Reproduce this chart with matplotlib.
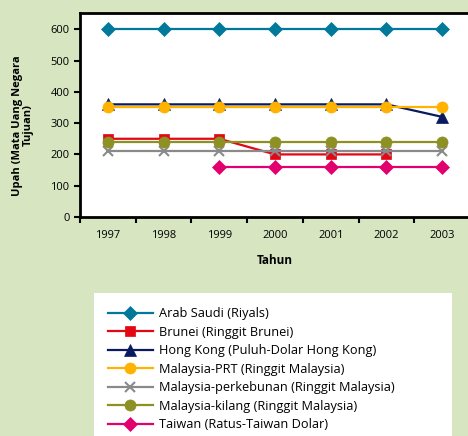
import matplotlib.pyplot as plt
from matplotlib.patches import Rectangle
import numpy as np

years = ['1997', '1998', '1999', '2000', '2001', '2002', '2003']

arab_saudi = [600, 600, 600, 600, 600, 600, 600]
brunei = [250, 250, 250, 200, 200, 200, np.nan]
hong_kong = [360, 360, 360, 360, 360, 360, 320]
malaysia_prt = [350, 350, 350, 350, 350, 350, 350]
malaysia_kebun = [210, 210, 210, 210, 210, 210, 210]
malaysia_kilang = [240, 240, 240, 240, 240, 240, 240]
taiwan = [np.nan, np.nan, 160, 160, 160, 160, 160]

labels = ['Arab Saudi (Riyals)', 'Brunei (Ringgit Brunei)',
          'Hong Kong (Puluh-Dolar Hong Kong)', 'Malaysia-PRT (Ringgit Malaysia)',
          'Malaysia-perkebunan (Ringgit Malaysia)', 'Malaysia-kilang (Ringgit Malaysia)',
          'Taiwan (Ratus-Taiwan Dolar)']

plt.rcParams['font.family'] = ['Open Sans', 'DejaVu Sans']

bg = '#d7e5c1'
fig = plt.figure(figsize=(4.68, 4.36), dpi=100, facecolor=bg)
ax = fig.add_axes([80 / 468, 1 - 217 / 436, 390 / 468, 204 / 436])

x = np.arange(len(years))
series = [
    (arab_saudi, '#00799a', 'D', 7),
    (brunei, '#e30613', 's', 7),
    (hong_kong, '#0a1a5e', '^', 8),
    (malaysia_prt, '#ffb300', 'o', 8),
    (malaysia_kebun, '#8a8a8a', 'x', 7),
    (malaysia_kilang, '#8d9023', 'o', 8),
    (taiwan, '#e2006e', 'D', 7),
]
for (vals, col, mk, ms), lab in zip(series, labels):
    ax.plot(x, vals, color=col, marker=mk, markersize=ms, linewidth=1.6,
            markeredgewidth=1.5 if mk == 'x' else 0.5, markeredgecolor=col,
            label=lab)

ax.set_xlim(-0.5, 6.5)
ax.set_ylim(0, 652)
ax.set_yticks([0, 100, 200, 300, 400, 500, 600])
ax.set_xticks(np.arange(-0.5, 7, 1))
ax.set_xticklabels([])
ax.set_xticks(x, minor=True)
ax.set_xticklabels(years, minor=True)
ax.tick_params(axis='x', which='minor', length=0, pad=9, labelsize=8)
ax.tick_params(axis='x', which='major', length=4, width=1.5, direction='out')
ax.tick_params(axis='y', length=4, width=1.5, direction='out', labelsize=8)
for s in ax.spines.values():
    s.set_linewidth(2)
ax.set_xlabel('Tahun', fontsize=8.5, fontweight='bold', labelpad=10)
ax.set_ylabel('Upah (Mata Uang Negara\nTujuan)', fontsize=8, fontweight='bold',
              linespacing=1.0)
ax.yaxis.set_label_coords(-0.118, 0.45)

fig.patches.append(Rectangle((94 / 468, 0), 358 / 468, 143 / 436,
                             transform=fig.transFigure, facecolor='white',
                             edgecolor='none', zorder=0))
fig.legend(loc='upper left', bbox_to_anchor=(103 / 468, 1 - 302 / 436),
           frameon=False, fontsize=9.2, handlelength=3.5, handletextpad=0.45,
           labelspacing=0.43, borderaxespad=0)

fig.savefig('out.png', dpi=100, facecolor=bg)
